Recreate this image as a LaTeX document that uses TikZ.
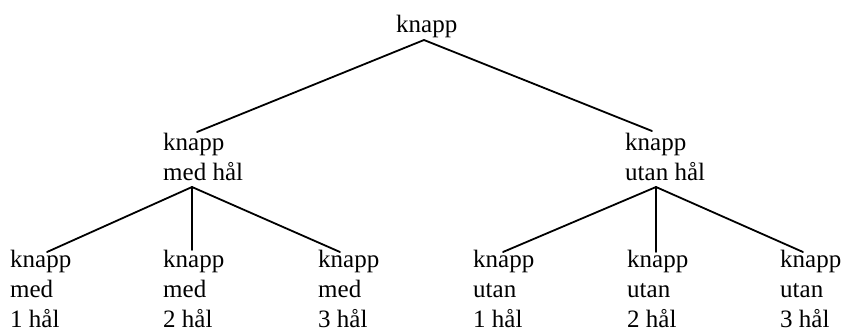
\documentclass[tikz,border=0pt]{standalone}
\usepackage{fontspec}
\setmainfont{Liberation Serif}
\begin{document}
\begin{tikzpicture}[x=1pt,y=-1pt,
  lbl/.style={anchor=base west, inner sep=0pt, align=left, font=\fontsize{25}{30}\selectfont},
  edge/.style={line width=1.8pt, line cap=round}]
\useasboundingbox (0,0) rectangle (844,333);
% labels (anchored at the baseline of their last line)
\node[lbl] (root) at (396,32) {knapp};
\node[lbl] (ml) at (163,180) {knapp\\med hål};
\node[lbl] (mr) at (625,180) {knapp\\utan hål};
\node[lbl] (l1) at (10,327) {knapp\\med\\1 hål};
\node[lbl] (l2) at (163,327) {knapp\\med\\2 hål};
\node[lbl] (l3) at (318,327) {knapp\\med\\3 hål};
\node[lbl] (r1) at (473,327) {knapp\\utan\\1 hål};
\node[lbl] (r2) at (627,327) {knapp\\utan\\2 hål};
\node[lbl] (r3) at (780,327) {knapp\\utan\\3 hål};
% connector points
\coordinate (root-b) at (424,40);
\coordinate (ml-t) at (197,132);
\coordinate (ml-b) at (192,187);
\coordinate (mr-t) at (652,131);
\coordinate (mr-b) at (656,187);
\coordinate (l1-t) at (47,252);
\coordinate (l2-t) at (192,250);
\coordinate (l3-t) at (340,252);
\coordinate (r1-t) at (503,252);
\coordinate (r2-t) at (656,252);
\coordinate (r3-t) at (803,252);
% connectors
\draw[edge] (ml-t) -- (root-b) -- (mr-t);
\draw[edge] (ml-b) -- (l1-t);
\draw[edge] (ml-b) -- (l2-t);
\draw[edge] (ml-b) -- (l3-t);
\draw[edge] (mr-b) -- (r1-t);
\draw[edge] (mr-b) -- (r2-t);
\draw[edge] (mr-b) -- (r3-t);
\end{tikzpicture}
\end{document}
